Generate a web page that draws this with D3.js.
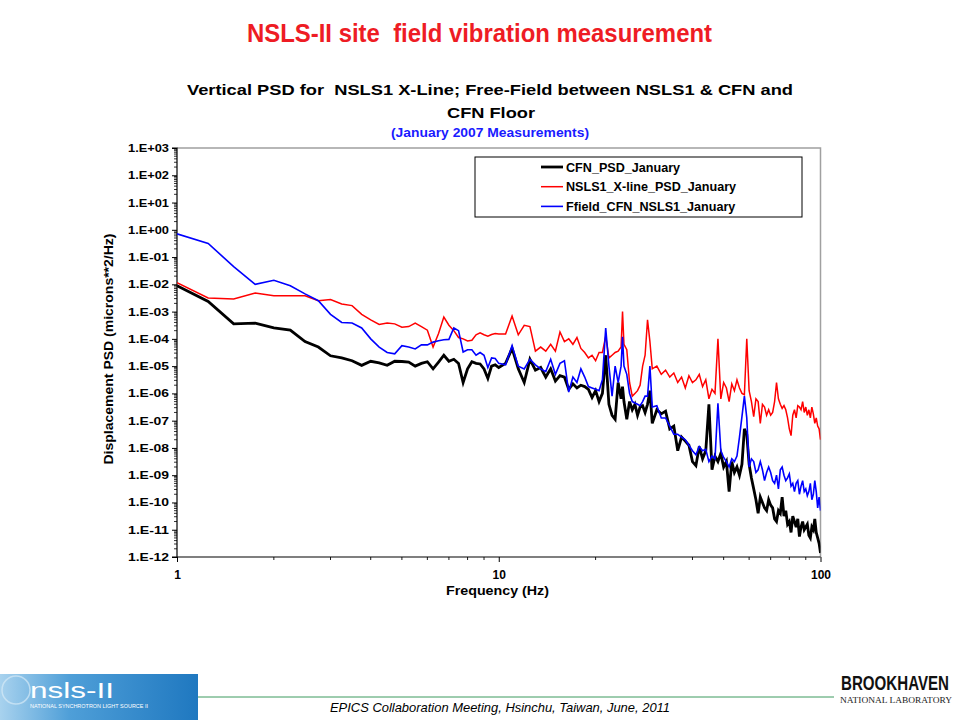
<!DOCTYPE html>
<html>
<head>
<meta charset="utf-8">
<script src="https://cdn.jsdelivr.net/npm/d3@7"></script>
<style>
  html, body { margin: 0; padding: 0; background: #fff; }
  svg { display: block; }
  .pre { white-space: pre; }
</style>
</head>
<body>
<svg id="chart" width="960" height="720"></svg>
<script>
// ---------------- DATA ----------------
const freqs = [1,1.25,1.5,1.75,2,2.25,2.5,2.75,3,3.25,3.5,3.75,4,4.25,4.5,4.75,5,5.25,5.5,5.75,6,6.25,6.5,6.75,7,7.25,7.5,7.75,8,8.25,8.5,8.75,9,9.25,9.5,9.75,10,
  10.5,11,11.5,12,12.5,13,13.5,14,14.5,15,15.5,16,16.5,17,17.5,18,18.5,19,19.5,20,
  20.5,21,21.5,22,22.5,23,23.5,24,24.25,24.5,25,25.5,26,26.5,27,27.5,28,28.5,29,29.5,30,
  31,32,33,34,35,36,37,38,39,40,41,42,43,44,45,46,47,48,49,50,51,52,53,54,55,56,57,58,59,60,
  61,62,63,64,65,66,67,68,69,70,71,72,73,74,75,76,77,78,79,80,81,82,83,84,85,86,87,88,89,90,
  91,92,93,94,95,96,97,98,99,100];

const cfnPSD = [8.9e-3,2.34e-3,3.55e-4,3.8e-4,2.51e-4,2.09e-4,7.94e-5,5.01e-5,2.4e-5,2e-5,1.58e-5,1.07e-5,1.51e-5,1.32e-5,1.07e-5,1.51e-5,1.48e-5,1.41e-5,1e-5,1.26e-5,1.45e-5,7.94e-6,1.41e-5,2.51e-5,1.51e-5,1.78e-5,1.26e-5,2.51e-6,7.94e-6,1.45e-5,1.26e-5,1.2e-5,7.94e-6,3.55e-6,1e-5,1.12e-5,8.91e-6,
  1.26e-5,4.47e-5,7.94e-6,2.51e-6,1.78e-5,7.08e-6,8.91e-6,3.98e-6,7.94e-6,2.82e-6,4.47e-6,3.98e-6,1.41e-6,2.24e-6,1.58e-6,2e-6,1.78e-6,1.41e-6,7.08e-7,1.26e-6,
  5.01e-7,1e-6,2.51e-5,3.98e-7,1.58e-7,1.12e-7,2.51e-6,6.31e-7,1.78e-6,5.01e-7,1.12e-7,5.01e-7,2.51e-7,3.98e-7,1.58e-7,3.16e-7,3.55e-7,2e-7,3.98e-7,1.26e-6,7.94e-8,
  2.51e-7,1.78e-7,2.24e-7,5.01e-8,6.31e-8,7.94e-9,2.51e-8,1.78e-8,1.26e-8,3.16e-9,2.24e-9,1.12e-8,3.98e-9,7.94e-9,3.98e-7,1.58e-9,5.01e-9,3.16e-9,6.31e-9,2e-9,3.16e-9,2.51e-10,3.16e-9,1.26e-9,2e-9,1e-9,2.51e-9,5.01e-8,3.16e-8,2.51e-9,
  7.94e-10,3.16e-10,1.26e-10,3.98e-11,1.58e-10,1e-10,6.31e-11,5.01e-11,1.26e-10,7.94e-11,6.31e-11,2.51e-11,2e-11,5.01e-11,3.98e-11,1.58e-10,3.16e-11,5.01e-11,1.58e-11,2e-11,7.94e-12,3.16e-11,2e-11,1.26e-11,2.51e-11,5.62e-12,1.26e-11,2e-11,1e-11,1.26e-11,
  1.58e-11,6.31e-12,5.01e-12,1.26e-11,1e-11,2.51e-11,7.94e-12,5.01e-12,3.16e-12,1.41e-12];

const nsls1PSD = [1.15e-2,3.16e-3,2.88e-3,4.79e-3,3.8e-3,3.8e-3,3.8e-3,2.51e-3,2.75e-3,1.91e-3,1.66e-3,7.94e-4,5.01e-4,3.39e-4,3.8e-4,3.55e-4,2.69e-4,2.82e-4,3.8e-4,2.82e-4,2.09e-4,5.01e-5,1.58e-4,6.31e-4,3.16e-4,2e-4,1.12e-4,1e-4,8.32e-5,8.91e-5,1.41e-4,1.66e-4,1.41e-4,1.26e-4,1.45e-4,1.58e-4,1.51e-4,
  1.51e-4,6.92e-4,1.41e-4,3.16e-4,2.82e-4,3.55e-5,5.01e-5,3.55e-5,6.31e-5,3.55e-5,1.78e-4,7.94e-5,1e-4,6.31e-5,1.12e-4,4.47e-5,3.16e-5,2e-5,2.51e-5,1.58e-5,
  3.16e-5,3.16e-5,1.26e-4,2e-5,2.51e-5,3.16e-5,3.55e-5,5.01e-5,1e-3,6.31e-5,3.98e-5,2.51e-6,7.94e-7,1e-6,1.26e-6,2e-6,1e-5,2.51e-5,5.01e-4,7.94e-5,7.94e-6,
  1e-5,5.01e-6,7.08e-6,3.98e-6,5.62e-6,2.51e-6,3.98e-6,1.58e-6,4.47e-6,2.51e-6,3.16e-6,5.01e-6,1.78e-6,3.16e-6,6.31e-7,1.41e-6,1e-6,1e-4,6.31e-7,2.51e-6,1.58e-6,5.01e-7,2.24e-6,1.26e-6,3.16e-6,1.58e-6,1e-6,8.91e-7,1e-4,1.26e-6,
  5.01e-7,1.41e-7,6.31e-7,5.01e-7,7.94e-8,3.98e-7,3.16e-7,1.58e-7,2.51e-7,1.58e-7,2e-7,5.01e-7,2.51e-6,6.31e-7,3.98e-7,2.82e-7,3.55e-7,2.51e-7,1.26e-7,5.01e-8,2.82e-8,1.58e-7,2.51e-7,1.26e-7,3.55e-7,3.16e-7,2.51e-7,5.01e-7,2e-7,3.16e-7,
  1.58e-7,2.51e-7,1.26e-7,3.16e-7,1.78e-7,7.94e-8,1.26e-7,6.31e-8,5.01e-8,2e-8];

const ffieldPSD = [7.08e-1,3.16e-1,4.47e-2,1e-2,1.41e-2,8.91e-3,4.47e-3,2.51e-3,7.94e-4,3.98e-4,3.8e-4,2.51e-4,1e-4,5.01e-5,3.16e-5,2.82e-5,5.62e-5,5.01e-5,4.27e-5,6.03e-5,6.03e-5,7.59e-5,8.51e-5,9.33e-5,9.55e-5,2.51e-4,2e-4,3.31e-5,3.98e-5,3.98e-5,2.51e-5,3.16e-5,2.51e-5,8.91e-6,2e-5,1.91e-5,1.26e-5,
  1.12e-5,5.62e-5,1e-5,7.94e-6,1.78e-5,1.12e-5,7.94e-6,6.31e-6,1.78e-5,5.01e-6,1.26e-5,1.58e-5,1.12e-6,3.98e-6,2.51e-6,7.94e-6,3.98e-6,1.78e-6,1.58e-6,1.41e-6,
  1.26e-6,3.16e-6,2.51e-4,1e-5,7.94e-7,1e-5,2.51e-6,1e-5,1.2e-4,1e-5,5.01e-6,1e-6,5.01e-7,4.47e-7,3.98e-7,3.55e-7,5.01e-7,7.94e-7,7.94e-7,1e-5,3.16e-7,
  3.55e-7,1.26e-7,1.26e-7,6.31e-8,3.16e-8,3.16e-8,2.51e-8,2e-8,1.26e-8,7.94e-9,5.62e-9,1.12e-8,7.94e-9,8.91e-9,3.16e-9,5.01e-9,3.98e-9,4.37e-7,7.94e-9,4.47e-9,3.16e-9,2e-9,3.98e-9,3.16e-9,5.01e-9,2.51e-8,1.41e-7,7.94e-7,1.26e-7,2e-9,
  3.98e-9,3.16e-9,1.26e-9,1.58e-9,3.16e-9,1.58e-9,6.31e-10,1.26e-9,2e-9,1.26e-9,6.31e-10,5.01e-10,1e-9,3.16e-10,1.58e-9,2e-9,1e-9,6.31e-10,7.94e-10,1.12e-9,3.98e-10,5.01e-10,2.51e-10,5.01e-10,6.31e-10,2e-10,3.98e-10,6.31e-10,2.51e-10,3.16e-10,
  1.78e-10,2.51e-10,5.01e-10,1.26e-10,2e-10,6.31e-10,2.51e-10,6.31e-11,1.58e-10,5.01e-11];

const seriesNames = ["CFN_PSD_January", "NSLS1_X-line_PSD_January", "Ffield_CFN_NSLS1_January"];
const yTickValues = [1e-12,1e-11,1e-10,1e-9,1e-8,1e-7,1e-6,1e-5,1e-4,1e-3,1e-2,1e-1,1e0,1e1,1e2,1e3];
const yTickLabels = ["1.E-12","1.E-11","1.E-10","1.E-09","1.E-08","1.E-07","1.E-06","1.E-05","1.E-04","1.E-03","1.E-02","1.E-01","1.E+00","1.E+01","1.E+02","1.E+03"];
const xTickValues = [1, 10, 100];
const xTickLabels = ["1", "10", "100"];

// ---------------- LAYOUT ----------------
const svg = d3.select("#chart");
const plot = { left: 177, right: 820.5, top: 148, bottom: 557 };
const x = d3.scaleLog().domain([1, 100]).range([plot.left, plot.right]);
const y = d3.scaleLog().domain([1e-12, 1e3]).range([plot.bottom, plot.top]);

const boldFont = "Liberation Sans, Arial, sans-serif";
const narrowFont = "'Liberation Sans Narrow', 'Arial Narrow', 'Liberation Sans', Arial, sans-serif";

// slide title
svg.append("text").attr("class", "pre")
  .attr("x", 479.5).attr("y", 42)
  .attr("text-anchor", "middle")
  .attr("font-family", narrowFont).attr("font-weight", "bold").attr("font-size", 26)
  .attr("fill", "#ee1c24")
  .attr("textLength", 465).attr("lengthAdjust", "spacingAndGlyphs")
  .text("NSLS-II site  field vibration measurement");

// chart titles
svg.append("text").attr("class", "pre")
  .attr("x", 490).attr("y", 95)
  .attr("text-anchor", "middle")
  .attr("font-family", boldFont).attr("font-weight", "bold").attr("font-size", 15.5)
  .attr("fill", "#000")
  .attr("textLength", 606).attr("lengthAdjust", "spacingAndGlyphs")
  .text("Vertical PSD for  NSLS1 X-Line; Free-Field between NSLS1 & CFN and");
svg.append("text")
  .attr("x", 491).attr("y", 118)
  .attr("text-anchor", "middle")
  .attr("font-family", boldFont).attr("font-weight", "bold").attr("font-size", 15.5)
  .attr("fill", "#000")
  .attr("textLength", 88).attr("lengthAdjust", "spacingAndGlyphs")
  .text("CFN Floor");
svg.append("text")
  .attr("x", 490).attr("y", 137)
  .attr("text-anchor", "middle")
  .attr("font-family", boldFont).attr("font-weight", "bold").attr("font-size", 12.5)
  .attr("fill", "#1a1aff")
  .attr("textLength", 198).attr("lengthAdjust", "spacingAndGlyphs")
  .text("(January 2007 Measurements)");

// plot frame (grey top/right)
svg.append("path")
  .attr("d", `M${plot.left},${plot.top}H${plot.right}V${plot.bottom}`)
  .attr("fill", "none").attr("stroke", "#a0a0a0").attr("stroke-width", 1.5);

// minor ticks
const yMinor = [];
yTickValues.slice(0, -1).forEach(v => { for (let k = 2; k <= 9; k++) yMinor.push(v * k); });
svg.append("g").selectAll("line").data(yMinor).join("line")
  .attr("x1", plot.left - 3).attr("x2", plot.left)
  .attr("y1", d => y(d)).attr("y2", d => y(d))
  .attr("stroke", "#000").attr("stroke-width", 0.8);
const xMinor = [];
xTickValues.slice(0, -1).forEach(v => { for (let k = 2; k <= 9; k++) xMinor.push(v * k); });
svg.append("g").selectAll("line").data(xMinor).join("line")
  .attr("x1", d => x(d)).attr("x2", d => x(d))
  .attr("y1", plot.bottom).attr("y2", plot.bottom + 3)
  .attr("stroke", "#000").attr("stroke-width", 0.9);

// axes
const yAxis = d3.axisLeft(y).tickValues(yTickValues)
  .tickFormat((d, i) => yTickLabels[i]).tickSize(5).tickPadding(3);
const gy = svg.append("g").attr("transform", `translate(${plot.left},0)`).call(yAxis);
gy.select(".domain").attr("stroke", "#000").attr("stroke-width", 1.2).attr("d", `M-5,${plot.top}H0V${plot.bottom}H-5`);
gy.selectAll("text")
  .attr("font-family", boldFont).attr("font-weight", "bold").attr("font-size", 11)
  .attr("fill", "#000").attr("textLength", 41).attr("lengthAdjust", "spacingAndGlyphs");

const xAxis = d3.axisBottom(x).tickValues(xTickValues)
  .tickFormat((d, i) => xTickLabels[i]).tickSize(5).tickPadding(8);
const gx = svg.append("g").attr("transform", `translate(0,${plot.bottom})`).call(xAxis);
gx.select(".domain").attr("stroke", "#000").attr("stroke-width", 1.2).attr("d", `M${plot.left},0H${plot.right}`);
gx.selectAll("text")
  .attr("font-family", boldFont).attr("font-weight", "bold").attr("font-size", 12).attr("fill", "#000");

// axis titles
svg.append("text")
  .attr("transform", "translate(113,349) rotate(-90)")
  .attr("text-anchor", "middle")
  .attr("font-family", boldFont).attr("font-weight", "bold").attr("font-size", 13)
  .attr("textLength", 231).attr("lengthAdjust", "spacingAndGlyphs")
  .text("Displacement PSD (microns**2/Hz)");
svg.append("text")
  .attr("x", 497.5).attr("y", 595)
  .attr("text-anchor", "middle")
  .attr("font-family", boldFont).attr("font-weight", "bold").attr("font-size", 13)
  .attr("textLength", 103).attr("lengthAdjust", "spacingAndGlyphs")
  .text("Frequency (Hz)");

// series
svg.append("defs").append("clipPath").attr("id", "plotclip")
  .append("rect").attr("x", plot.left).attr("y", plot.top - 2)
  .attr("width", plot.right - plot.left).attr("height", plot.bottom - plot.top + 4);

const series = [
  { name: seriesNames[0], values: cfnPSD, color: "#000000", width: 2.8 },
  { name: seriesNames[1], values: nsls1PSD, color: "#ff0000", width: 1.5 },
  { name: seriesNames[2], values: ffieldPSD, color: "#0000ff", width: 1.6 }
];
const line = d3.line().x(d => x(d[0])).y(d => y(d[1]));
const gLines = svg.append("g").attr("clip-path", "url(#plotclip)");
series.forEach(s => {
  gLines.append("path")
    .datum(freqs.map((f, i) => [f, s.values[i]]))
    .attr("d", line)
    .attr("fill", "none")
    .attr("stroke", s.color)
    .attr("stroke-width", s.width)
    .attr("stroke-linejoin", "miter");
});

// legend
const lg = svg.append("g");
lg.append("rect").attr("x", 475).attr("y", 157).attr("width", 327).attr("height", 60)
  .attr("fill", "#fff").attr("stroke", "#000").attr("stroke-width", 1);
series.forEach((s, i) => {
  const yy = 167 + i * 19.7;
  lg.append("line").attr("x1", 541).attr("x2", 563).attr("y1", yy).attr("y2", yy)
    .attr("stroke", s.color).attr("stroke-width", s.width);
  lg.append("text").attr("x", 566).attr("y", yy + 4.5)
    .attr("font-family", boldFont).attr("font-weight", "bold").attr("font-size", 12.6)
    .text(s.name);
});

// ---------------- FOOTER ----------------
const defs = svg.select("defs");
const grad = defs.append("linearGradient").attr("id", "logograd").attr("x1", "0").attr("x2", "1");
grad.append("stop").attr("offset", "0").attr("stop-color", "#a8d2ee");
grad.append("stop").attr("offset", "0.35").attr("stop-color", "#4f9fd8");
grad.append("stop").attr("offset", "1").attr("stop-color", "#1f78c0");
svg.append("rect").attr("x", 0).attr("y", 674).attr("width", 198).attr("height", 46).attr("fill", "url(#logograd)");
svg.append("circle").attr("cx", 16).attr("cy", 690).attr("r", 14).attr("fill", "none").attr("stroke", "#d5eaf7").attr("stroke-width", 1.5).attr("opacity", 0.7);
svg.append("text").attr("x", 30).attr("y", 698)
  .attr("font-family", narrowFont).attr("font-size", 22).attr("fill", "#fff")
  .attr("textLength", 84).attr("lengthAdjust", "spacingAndGlyphs").text("nsls-II");
svg.append("text").attr("x", 30).attr("y", 708)
  .attr("font-family", boldFont).attr("font-size", 5.5).attr("fill", "#fff")
  .attr("textLength", 118).attr("lengthAdjust", "spacingAndGlyphs").text("NATIONAL SYNCHROTRON LIGHT SOURCE II");

svg.append("line").attr("x1", 198).attr("x2", 834).attr("y1", 697).attr("y2", 697)
  .attr("stroke", "#3c9a5f").attr("stroke-width", 1);

svg.append("text").attr("x", 500).attr("y", 712)
  .attr("text-anchor", "middle")
  .attr("font-family", narrowFont).attr("font-style", "italic").attr("font-size", 13)
  .attr("fill", "#000")
  .attr("textLength", 340).attr("lengthAdjust", "spacingAndGlyphs")
  .text("EPICS Collaboration Meeting, Hsinchu, Taiwan, June, 2011");

svg.append("text")
  .attr("transform", "translate(841,690) scale(1,1.25)")
  .attr("font-family", narrowFont).attr("font-weight", "bold").attr("font-size", 16)
  .attr("fill", "#111")
  .attr("textLength", 108).attr("lengthAdjust", "spacingAndGlyphs").text("BROOKHAVEN");
svg.append("text").attr("x", 840).attr("y", 703)
  .attr("font-family", "'Liberation Serif', 'DejaVu Serif', serif").attr("font-size", 8.5)
  .attr("fill", "#222")
  .attr("textLength", 112).attr("lengthAdjust", "spacingAndGlyphs").text("NATIONAL LABORATORY");
</script>
</body>
</html>
